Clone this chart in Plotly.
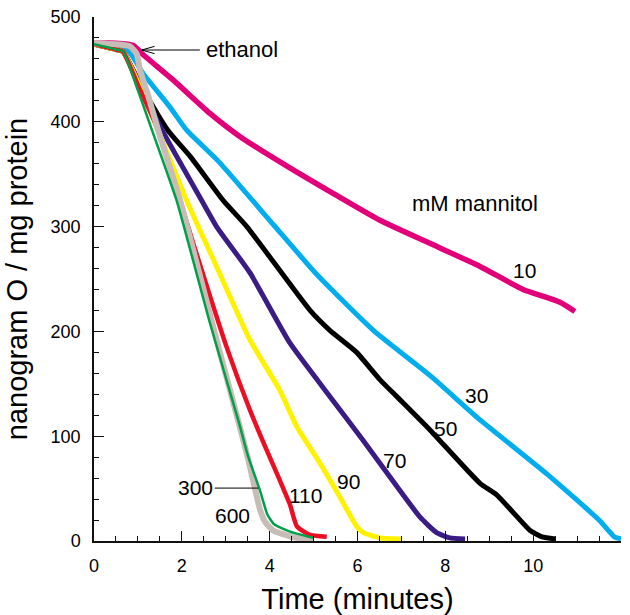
import plotly.graph_objects as go

# Oxygen content (nanogram O / mg protein) vs time (minutes), one trace per mannitol level
t_10 = [0, 0.5, 0.89, 1.12, 1.8, 2.64, 3.32, 4.46, 6.51, 7.65, 8.79, 9.77, 10.6, 10.95]
v_10 = [475, 475, 473, 464, 440, 408, 386, 356, 306, 284, 262, 240, 228, 219]

t_30 = [0, 0.5, 0.78, 1.12, 1.73, 2.11, 2.84, 4.08, 5.08, 6.36, 7.65, 8.75, 10.31, 11.5, 11.85, 12.0]
v_30 = [474, 472, 468, 446, 414, 392, 362, 302, 254, 201, 158, 117, 64, 20, 4, 2]

t_50 = [0, 0.5, 0.66, 1.0, 1.68, 2.19, 2.94, 3.48, 4.92, 5.37, 5.98, 6.51, 6.89, 7.65, 8.79, 9.17, 9.55, 9.93, 10.2, 10.5]
v_50 = [474, 469, 467, 440, 392, 367, 325, 300, 220, 201, 180, 154, 138, 106, 55, 44, 27, 10, 4, 2]

t_70 = [0, 0.5, 0.66, 1.0, 1.55, 2.41, 2.79, 3.55, 4.46, 5.37, 6.13, 6.74, 7.42, 7.8, 8.1, 8.45]
v_70 = [474, 469, 467, 440, 392, 328, 300, 256, 189, 138, 96, 61, 23, 8, 3, 2]

t_90 = [0, 0.5, 0.66, 1.0, 1.4, 2.14, 2.79, 3.55, 4.23, 4.62, 5.15, 5.6, 5.98, 6.13, 6.5, 7.0]
v_90 = [474, 469, 467, 438, 398, 322, 262, 192, 144, 109, 74, 42, 14, 8, 3, 2]

t_110 = [0, 0.5, 0.66, 1.0, 1.45, 2.26, 3.02, 3.55, 3.93, 4.23, 4.46, 4.62, 4.9, 5.3]
v_110 = [474, 469, 467, 435, 393, 284, 185, 125, 87, 58, 35, 14, 6, 4]

t_300 = [0, 0.5, 0.66, 1.0, 1.32, 1.88, 2.64, 3.32, 3.5, 3.78, 3.95, 4.1, 4.46, 5.0]
v_300 = [474, 469, 467, 430, 392, 325, 208, 110, 82, 48, 25, 16, 9, 3]

t_600 = [0, 0.5, 0.82, 0.97, 1.05, 1.24, 1.46, 1.96, 2.79, 3.3, 3.5, 3.78, 3.9, 4.08, 4.5, 5.0]
v_600 = [475, 474, 472, 465, 449, 424, 392, 325, 192, 112, 80, 30, 18, 10, 4, 1]

# (label, x, y) for the in-plot concentration labels
curve_labels = [
    ("10", 9.8, 258), ("30", 8.71, 139), ("50", 8.01, 107), ("70", 6.85, 77),
    ("90", 5.8, 57), ("110", 4.82, 43), ("300", 2.32, 51), ("600", 3.15, 24),
]

FONT = "Arial, Liberation Sans, sans-serif"

series = [
    (t_10, v_10, "#E2007A", 5.5, "10"),
    (t_30, v_30, "#00AEEF", 5.0, "30"),
    (t_50, v_50, "#000000", 5.0, "50"),
    (t_70, v_70, "#3A1C85", 5.0, "70"),
    (t_90, v_90, "#FFF200", 5.0, "90"),
    (t_110, v_110, "#EC0F24", 4.5, "110"),
    (t_600, v_600, "#C8BDB6", 6.0, "600"),
    (t_300, v_300, "#00A04A", 2.5, "300"),
]

fig = go.Figure()
for tx, vy, color, width, name in series:
    fig.add_trace(go.Scatter(
        x=tx, y=vy, mode="lines", name=name,
        line=dict(color=color, width=width, shape="spline", smoothing=0.5),
        showlegend=False, hoverinfo="skip",
    ))

annotations = []
for text, x, y in curve_labels:
    annotations.append(dict(x=x, y=y, text=text, showarrow=False,
                            font=dict(family=FONT, size=21, color="black"),
                            xanchor="center", yanchor="middle"))
annotations.append(dict(x=8.67, y=322, text="mM mannitol", showarrow=False,
                        font=dict(family=FONT, size=22, color="black"),
                        xanchor="center", yanchor="middle"))
annotations.append(dict(x=2.5, y=469, text="ethanol", showarrow=False,
                        font=dict(family=FONT, size=22, color="black"),
                        xanchor="left", yanchor="middle"))

shapes = [
    # arrow pointing at the ethanol addition
    dict(type="line", x0=2.41, y0=468.5, x1=1.085, y1=468.5,
         line=dict(color="black", width=1)),
    dict(type="path", path="M 1.38,472 L 1.085,468.5 L 1.38,465",
         line=dict(color="black", width=1)),
    # leader from the 300 label to its curve
    dict(type="line", x0=2.75, y0=50.5, x1=3.74, y1=50.5,
         line=dict(color="black", width=1)),
]

fig.update_layout(
    width=630, height=615,
    margin=dict(l=94, r=9, t=17, b=74),
    paper_bgcolor="white", plot_bgcolor="white",
    font=dict(family=FONT, color="black"),
    annotations=annotations, shapes=shapes,
    xaxis=dict(
        range=[0, 12], showgrid=False, zeroline=False, automargin=False,
        showline=True, linecolor="#111", linewidth=1.5,
        tickmode="linear", tick0=0, dtick=2,
        ticks="inside", ticklen=10, tickwidth=1, tickcolor="#111",
        minor=dict(dtick=0.5, ticks="inside", ticklen=5, tickwidth=1, tickcolor="#111"),
        tickfont=dict(family=FONT, size=18, color="black"),
        ticklabelstandoff=8,
        title=dict(text="Time (minutes)", font=dict(family=FONT, size=29, color="black"), standoff=20),
    ),
    yaxis=dict(
        range=[0, 500], showgrid=False, zeroline=False, automargin=False,
        showline=True, linecolor="#111", linewidth=1.5,
        tickmode="linear", tick0=0, dtick=100,
        ticks="inside", ticklen=10, tickwidth=1, tickcolor="#111",
        minor=dict(dtick=20, ticks="inside", ticklen=5, tickwidth=1, tickcolor="#111"),
        tickfont=dict(family=FONT, size=18, color="black"),
        ticklabelstandoff=8,
        title=dict(text="nanogram O / mg protein", font=dict(family=FONT, size=29, color="black"), standoff=14),
    ),
)

fig.write_html("out.html")
